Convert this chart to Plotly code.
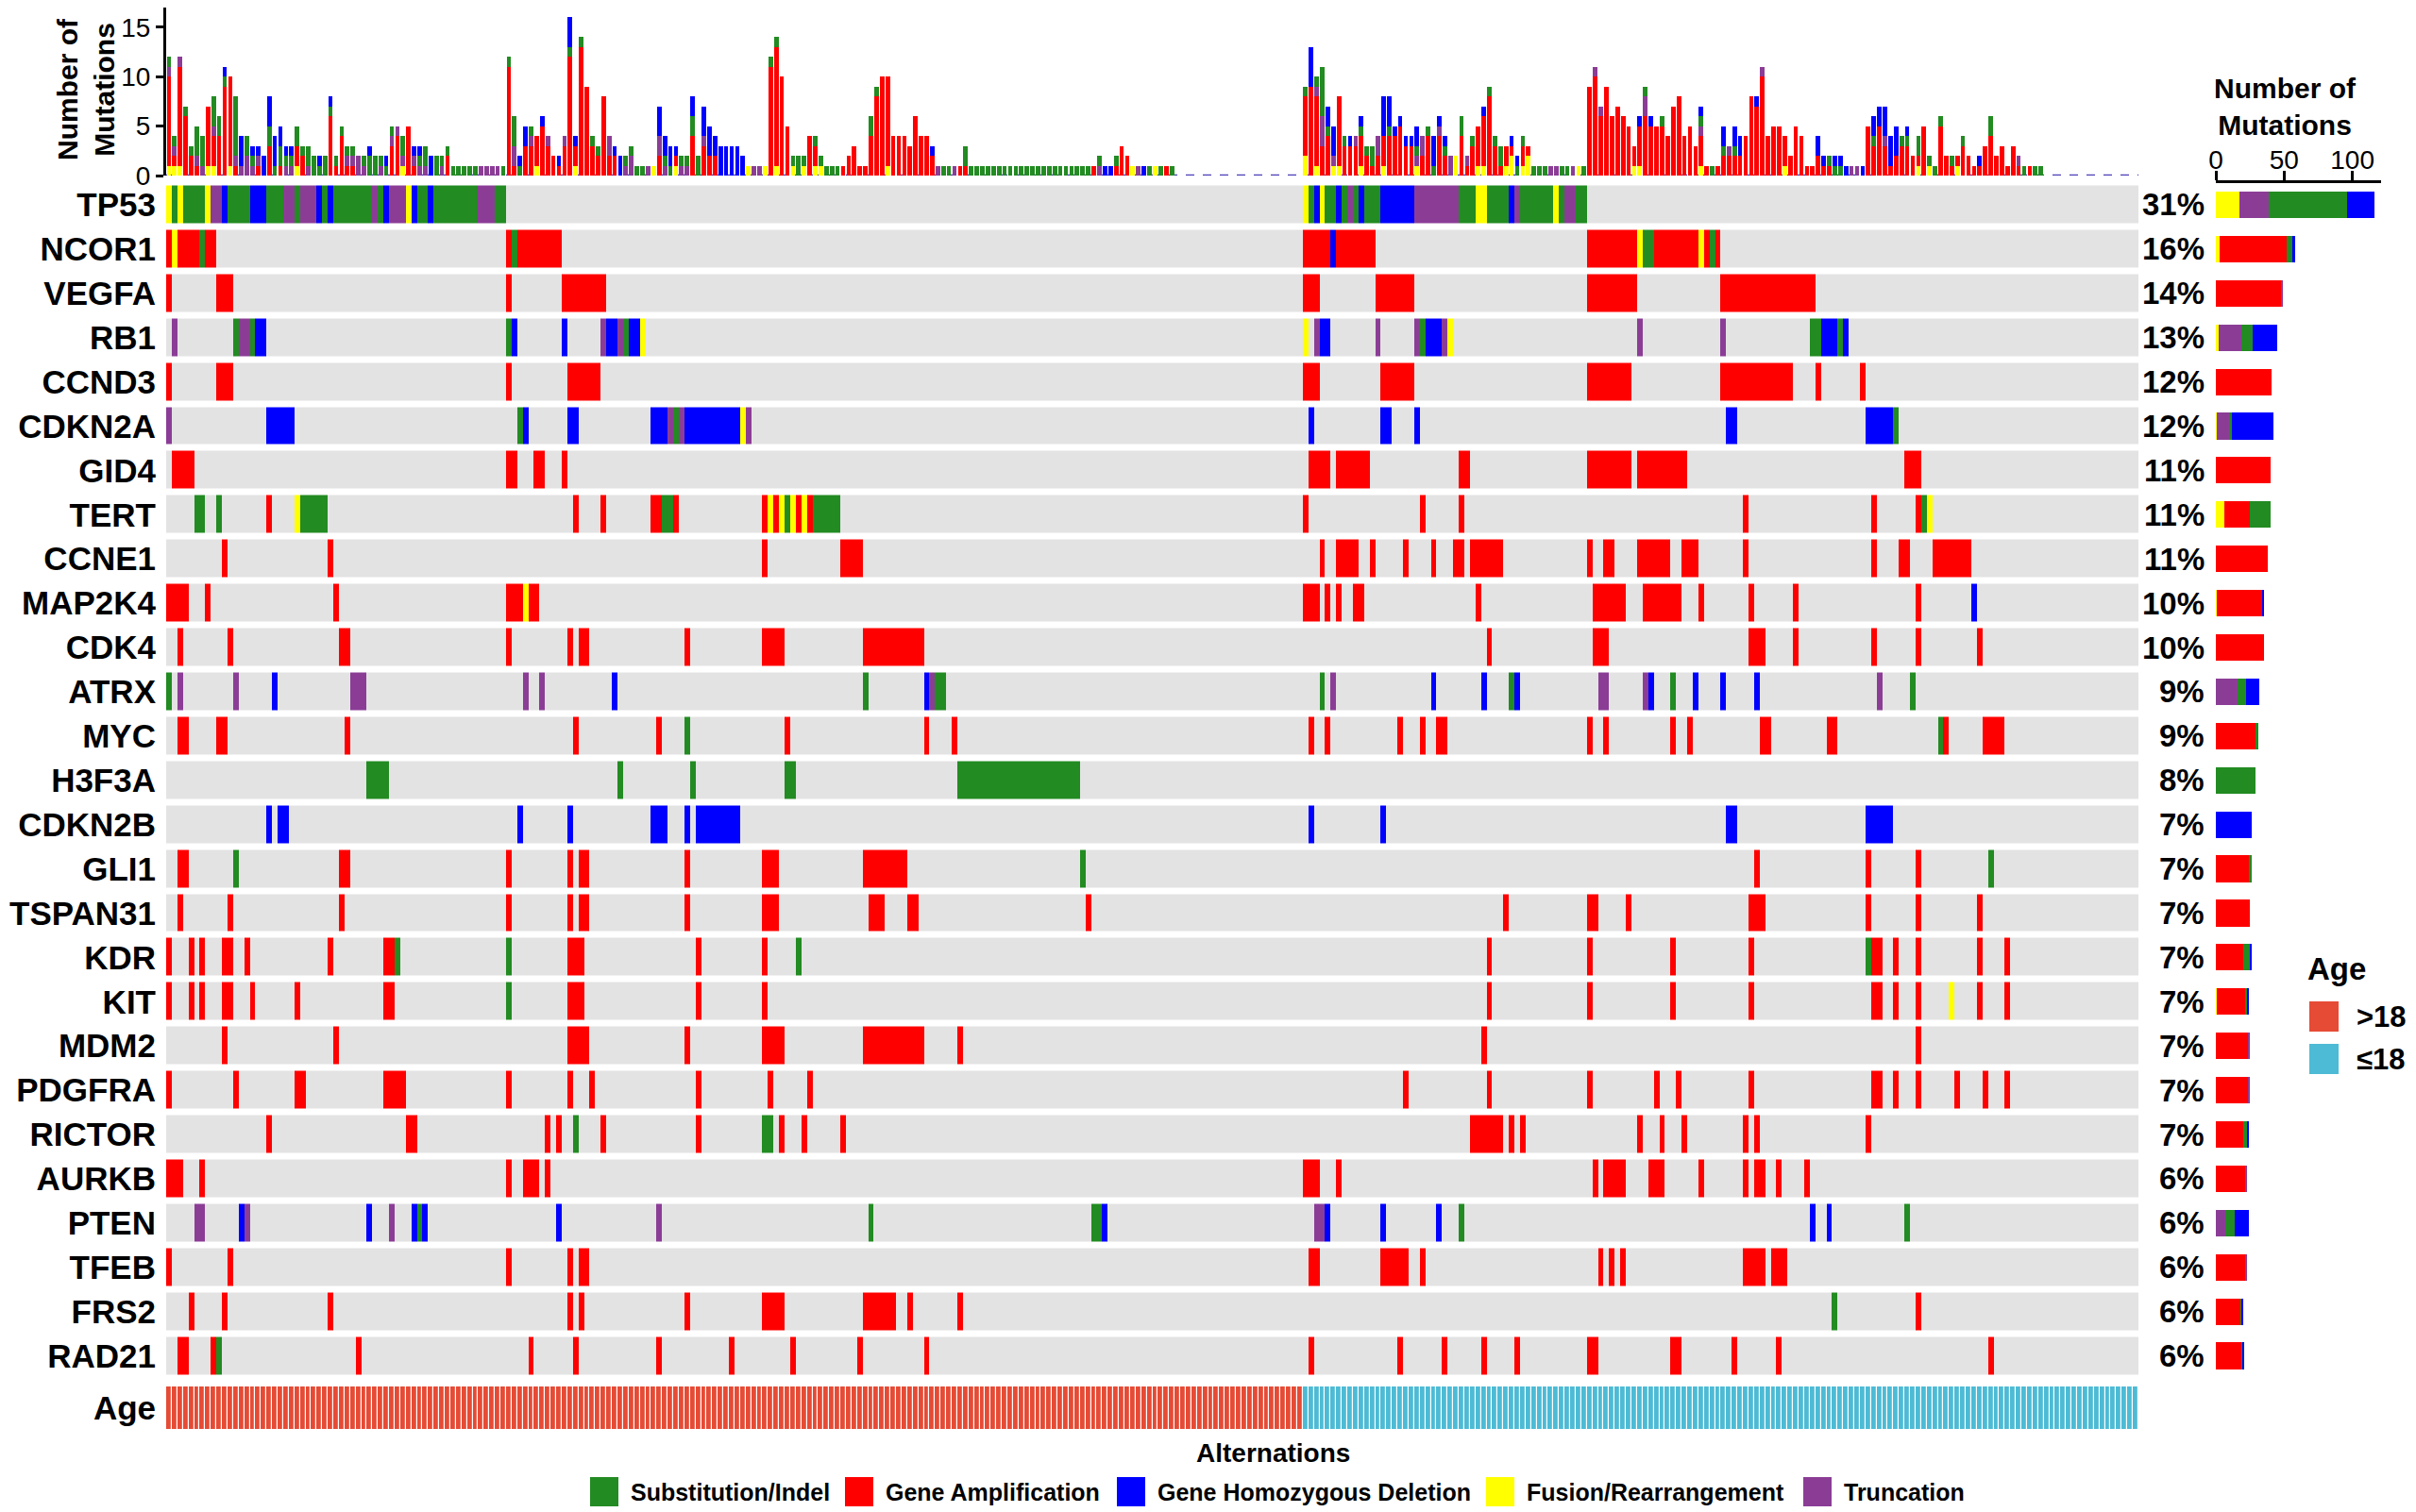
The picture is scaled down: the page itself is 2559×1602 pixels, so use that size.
import re
import plotly.graph_objects as go

# ---- data ----------------------------------------------------------------
N_SAMPLES = 354
N_ADULT = 204          # first 204 samples are >18, the rest <=18

GENES = ["TP53", "NCOR1", "VEGFA", "RB1", "CCND3", "CDKN2A", "GID4", "TERT",
         "CCNE1", "MAP2K4", "CDK4", "ATRX", "MYC", "H3F3A", "CDKN2B", "GLI1",
         "TSPAN31", "KDR", "KIT", "MDM2", "PDGFRA", "RICTOR", "AURKB", "PTEN",
         "TFEB", "FRS2", "RAD21"]
PERCENT = ["31%", "16%", "14%", "13%", "12%", "12%", "11%", "11%", "11%", "10%",
           "10%", "9%", "9%", "8%", "7%", "7%", "7%", "7%", "7%", "7%", "7%",
           "7%", "6%", "6%", "6%", "6%", "6%"]

# alterations per gene: "first-last" sample index + type
# S = substitution/indel, A = amplification, D = homozygous deletion,
# F = fusion/rearrangement, T = truncation
TP53 = ("0F 1S 2F 3-6S 7F 8-9T 10D 11-14S 15-17D 18-20S 21-22T 23S 24-26T 27D 28S 29D "
        "30-36S 37T 38S 39D 40-42T 43F 44D 45-46S 47D 48-55S 56-58T 59-60S "
        "204F 205S 206D 207F 208-209S 210D 211S 212T 213S 214D 215-217S 218-223D "
        "224-231T 232-234S 235-236F 237-240S 241D 242T 243-248S 249F 250S 251-252T 253-254S")
NCOR1 = "0A 1F 2-5A 6S 7-8A 61A 62S 63-70A 204-208A 209D 210-216A 255-263A 264F 265-266S 267-274A 275F 276A 277S 278A"
VEGFA = "0A 9-11A 61A 71-78A 204-206A 217-223A 255-263A 279-295A"
RB1 = ("1T 12S 13-14T 15S 16-17D 61S 62D 71D 78T 79-80D 81T 82S 83-84D 85F 204F 206T 207-208D "
       "217T 224T 225S 226-228D 229T 230F 264T 279T 295-296S 297-299D 300S 301D")
CCND3 = "0A 9-11A 61A 72-77A 204-206A 218-223A 255-262A 279-291A 296A 304A"
CDKN2A = "0T 18-22D 63S 64D 72-73D 87-89D 90T 91S 92T 93-102D 103F 104T 205D 218-219D 224D 280-281D 305-309D 310S"
GID4 = "1-4A 61-62A 66-67A 71A 205-208A 210-215A 232-233A 255-262A 264-272A 312-314A"
TERT = ("5-6S 9S 18A 23F 24-28S 73A 78A 87-88A 89-90S 91A 107A 108F 109A 110F 111S 112F 113A 114F "
        "115A 116-120S 204A 225A 232A 283A 306A 314A 315S 316F")
CCNE1 = ("10A 29A 107A 121-124A 207A 210-213A 216A 222A 227A 231-232A 234-239A 255A 258-259A "
         "264-269A 272-274A 283A 306A 311-312A 317-323A")
MAP2K4 = ("0-3A 7A 30A 61A 62-63A 64F 65-66A 204-206A 208A 210A 213-214A 235A 256-261A 265-271A "
          "275A 284A 292A 314A 324D")
CDK4 = "2A 11A 31-32A 61A 72A 74-75A 93A 107-110A 125-135A 237A 256-258A 284-286A 292A 306A 314A 325A"
ATRX = ("0S 2T 12T 19D 33-35T 64T 67T 80D 125S 136D 137T 138-139S 207S 209T 227D 236D 241S 242D "
        "257-258T 265T 266D 270S 274D 279D 285D 307T 313S")
MYC = ("2-3A 9-10A 32A 73A 88A 93S 111A 136A 141A 205A 208A 221A 225A 228-229A 255A 258A 270A "
       "273A 286-287A 298-299A 318S 319A 326-329A")
H3F3A = "36-39S 81S 94S 111-112S 142-163S"
CDKN2B = "18D 20-21D 63D 72D 87-89D 93D 95-102D 205D 218D 280-281D 305-309D"
GLI1 = "2-3A 12S 31-32A 61A 72A 74-75A 93A 107-109A 125-132A 164S 285A 305A 314A 327S"
TSPAN31 = "2A 11A 31A 61A 72A 74-75A 93A 107-109A 126-128A 133-134A 165A 240A 255-256A 262A 284-286A 305A 314A 325A"
KDR = ("0A 4A 6A 10-11A 14A 29A 39-40A 41S 61S 72-73A 74A 95A 107A 113S 237A 255A 270A 284A "
       "305S 306-307A 310A 314A 325A 330A")
KIT = ("0A 4A 6A 10-11A 15A 23A 39-40A 61S 72-73A 74A 95A 107A 237A 255A 270A 284A 306-307A "
       "310A 314A 320F 325A 330A")
MDM2 = "10A 30A 72-75A 93A 107-110A 125-135A 142A 236A 314A"
PDGFRA = ("0A 12A 23-24A 39-42A 61A 72A 76A 95A 108A 115A 222A 237A 255A 267A 271A 284A "
          "306-307A 310A 314A 321A 326A 330A")
RICTOR = ("18A 43-44A 68A 70A 73S 78A 95A 107-108S 110A 114A 121A 234-239A 241A 243A 264A 268A "
          "272A 283A 285A 305A")
AURKB = "0-2A 6A 61A 64-66A 68A 204-206A 210A 256A 258-261A 266-268A 275A 283A 285-286A 289A 294A"
PTEN = ("5-6T 13D 14T 36D 40T 44D 45S 46D 70D 88T 126S 166-167S 168D 206-207T 208D 218D 228D "
        "232S 295D 298D 312S")
TFEB = "0A 11A 61A 72A 74-75A 205-206A 218-222A 225A 257A 259A 261A 283-286A 288-290A"
FRS2 = "4A 10A 29A 72A 74A 93A 107-110A 125-130A 133A 142A 299S 314A"
RAD21 = ("2-3A 8A 9S 34A 65A 73A 88A 101A 112A 124A 136A 205A 221A 229A 236A 242A 255-256A "
         "270-271A 281A 289A 327A")

GENE_ALTS = [TP53, NCOR1, VEGFA, RB1, CCND3, CDKN2A, GID4, TERT, CCNE1, MAP2K4, CDK4,
             ATRX, MYC, H3F3A, CDKN2B, GLI1, TSPAN31, KDR, KIT, MDM2, PDGFRA, RICTOR,
             AURKB, PTEN, TFEB, FRS2, RAD21]

# mutations per sample (top panel): Y fusion, R amplification, P truncation,
# G substitution, B deletion
SAMPLE_COUNTS = (
    ["Y1R9P1G1", "Y1R1P1G1", "Y1R10P1", "R6G1", "R2G1", "R1P1G3", "P1G3", "Y1R6", "Y1R3P1G3", "R4G2",
     "R9G1B1", "Y1R9", "R1P1G6", "P1B3", "P2G2", "P1G1B1", "R1P1B1", "B2", "R3G2B3", "G1B3",
     "R1G2B2", "P1G1B1", "P1G1B1", "Y1R2G2", "R2G1", "P1G2", "G2", "G1B1", "G2", "R6G1B1",
     "R1G1", "R4G1", "R1P1G1", "R1P1G1", "P2", "P1G1", "G2B1", "G2", "P1G1", "G1B1",
     "R3P1G1", "R4P1", "Y1P1G2", "R5", "R1P1B1", "P1G1B1", "P1G2", "B2", "G2", "P1G1",
     "R2G1", "G1", "G1", "G1", "G1", "G1", "P1", "P1", "P1", "P1",
     "G1", "R11G1", "R1P2G3", "G1B1", "R3B2", "R3P1G1", "Y1R3", "R5B1", "R3P1", "R2",
     "R1B1", "R3P1", "R12G1B3", "Y1R2B1", "R13G1", "R9", "R3G1", "R2G1", "R8", "R2P2",
     "R2B1", "B2", "P1G1", "P2G1", "G1", "G1", "P1", "Y1", "R2P2B3", "P1G1B2",
     "G1B2", "Y1R1B1", "P1G1", "P1G1", "R4G2B2", "G2", "R3P1B3", "R2B3", "R2B2", "B3",
     "B3", "B3", "B3", "B2", "Y1", "P1", "P1", "Y1", "R11G1", "Y1R12G1",
     "R10", "R5", "Y1G1", "G2", "Y1G1", "R4", "Y1R2G1", "Y1G1", "G1", "G1",
     "G1", "R1", "R2", "R3", "R1", "R1", "R4G2", "R8G1", "R10", "Y1R9",
     "R4", "R4", "R4", "R3", "R6", "R4", "R4", "R2B1", "P1", "G1",
     "G1", "P1", "R1", "R1G2"]
    + ["G1"] * 22
    + ["R1", "P1G1", "B1", "B1", "R1G1", "R3", "R2", "Y1", "P1", "B1", "G1", "Y1", "G1", "R1", "G1"]
    + [""] * 23
    + ["Y2R6G1", "R9B4", "Y1R7P1G1", "R3P3G5", "R4G1B2", "Y1P1B3", "Y1R7", "R3G1", "R3B1", "R3P1",
       "Y1R3G1B1", "R2G1", "R1G2", "R2P2", "Y1R3B4", "R4G1B3", "R4B1", "R5B1", "R3B1", "R3B1",
       "Y1P1G1B2", "R2P2", "R4G1", "G1B3", "R4P1B1", "R2G1B1", "P2", "Y2", "R4G2", "R1P1",
       "R3G1", "Y1R4", "Y1R5B1", "R8G1", "R3G1", "R1G2", "Y1R2", "Y2R1B1", "G1B1", "Y1R2G1",
       "Y2R1", "G1", "G1", "G1", "P1", "P1", "G1", "G1", "P1", "Y1",
       "G1", "R9", "R10P1", "R6P1", "R9", "R6", "R7", "R6", "R5", "Y1R2",
       "Y1R4B1", "R6P2G1", "R5B1", "R5", "R5G1", "R4", "R7", "R8", "R4", "R5",
       "R3", "Y1R3P1G1B1", "R1", "G1", "R1", "R2G1B2", "R2P1", "R2G1B2", "R2B2", "R4",
       "R8", "R7B1", "R10P1", "R4", "R5", "R5", "Y1R3", "R2", "R5", "R4",
       "R1", "R1", "R2B2", "R1B1", "R1G1", "G1B1", "G1B1", "B1", "P1", "P1",
       "B1", "R5", "R3G1B2", "R5B2", "R3P1B3", "R1B3", "R2B3", "R3G1", "R3G1B1", "R2",
       "Y1R1G2", "R5", "Y1G1", "G1", "R5G1", "R2", "R1G1", "Y1R1", "R3G1", "R2",
       "R1", "R1B1", "R3", "R4G2", "R2", "R3", "R1", "R3", "R1P1", "G1",
       "R1", "G1", "G1"]
    + [""] * 17
)

# number of mutations per gene (right panel)
FUSION_CNT = [17, 3, 0, 2, 0, 1, 0, 6, 0, 1, 0, 0, 0, 0, 0, 0, 0, 0, 1, 0, 0, 0, 0, 0, 0, 0, 0]
AMP_CNT = [0, 49, 48, 0, 41, 0, 40, 19, 38, 33, 35, 0, 29, 0, 0, 24, 25, 20, 21, 24, 24, 20, 22, 0, 22, 18, 19]
TRUNC_CNT = [22, 0, 1, 17, 0, 9, 0, 0, 0, 0, 0, 16, 0, 0, 0, 0, 0, 0, 0, 1, 1, 0, 1, 7, 1, 0, 0]
SUBST_CNT = [57, 4, 0, 8, 0, 2, 0, 15, 0, 0, 0, 6, 2, 29, 0, 2, 0, 5, 1, 0, 0, 3, 0, 7, 0, 1, 1]
DEL_CNT = [20, 2, 0, 18, 0, 30, 0, 0, 0, 1, 0, 10, 0, 0, 26, 0, 0, 1, 1, 0, 0, 1, 0, 10, 0, 1, 1]

# ---- styling ---------------------------------------------------------------
FONT = "Liberation Sans, Arial, sans-serif"
GRAY = "#E3E3E3"
GREEN, RED, BLUE, YELLOW, PURPLE = "#228B22", "#FF0000", "#0000FF", "#FFFF00", "#8B3D96"
AGE_OLD, AGE_YOUNG = "#E64B35", "#4DBBD5"
CODE = {"S": 1, "A": 2, "D": 3, "F": 4, "T": 5}

assert len(SAMPLE_COUNTS) == N_SAMPLES

W, H = 2559, 1602


def fx(X):
    return X / W


def fy(Y):
    return 1 - Y / H


def parse_runs(spec):
    row = [0] * N_SAMPLES
    for tok in spec.split():
        rng, c = tok[:-1], tok[-1]
        if "-" in rng:
            a, b = map(int, rng.split("-"))
        else:
            a = b = int(rng)
        for i in range(a, b + 1):
            row[i] = CODE[c]
    return row


z_genes = [parse_runs(s) for s in GENE_ALTS]

per_type = {k: [] for k in "YRPGB"}
for s in SAMPLE_COUNTS:
    d = {k: int(v) for k, v in re.findall(r"([YRPGB])(\d+)", s)}
    for k in "YRPGB":
        per_type[k].append(d.get(k, 0))

samples = list(range(N_SAMPLES))
fig = go.Figure()

# oncoprint
steps = [GRAY, GREEN, RED, BLUE, YELLOW, PURPLE]
cscale = []
for k, c in enumerate(steps):
    cscale += [[k / 6, c], [(k + 1) / 6, c]]
fig.add_trace(go.Heatmap(x=samples, y=GENES, z=z_genes, xaxis="x", yaxis="y3",
                         colorscale=cscale, zmin=-0.5, zmax=5.5, showscale=False,
                         xgap=0, ygap=7, hoverinfo="skip"))

# age row
age_z = [[0 if i < N_ADULT else 1 for i in samples]]
fig.add_trace(go.Heatmap(x=samples, y=["Age"], z=age_z, xaxis="x", yaxis="y4",
                         colorscale=[[0, AGE_OLD], [0.5, AGE_OLD], [0.5, AGE_YOUNG], [1, AGE_YOUNG]],
                         zmin=0, zmax=1, showscale=False, xgap=1.2, hoverinfo="skip"))

# top stacked bars and right stacked bars (bottom-to-top order)
stack = [("Y", YELLOW, FUSION_CNT), ("R", RED, AMP_CNT), ("P", PURPLE, TRUNC_CNT),
         ("G", GREEN, SUBST_CNT), ("B", BLUE, DEL_CNT)]
for k, col, gene_cnt in stack:
    fig.add_trace(go.Bar(x=samples, y=per_type[k], xaxis="x", yaxis="y2", width=0.8,
                         marker=dict(color=col, line=dict(width=0)), showlegend=False,
                         hoverinfo="skip"))
    fig.add_trace(go.Bar(x=gene_cnt, y=GENES, orientation="h", xaxis="x5", yaxis="y3",
                         width=0.6, marker=dict(color=col, line=dict(width=0)),
                         showlegend=False, hoverinfo="skip"))


def note(X, Y, text, size, xanchor="center", angle=0):
    return dict(x=fx(X), y=fy(Y), xref="paper", yref="paper", xanchor=xanchor,
                yanchor="middle", textangle=angle, text=text, showarrow=False,
                font=dict(size=size, color="black"))


annotations = []
for g, p in zip(GENES, PERCENT):
    annotations.append(dict(x=fx(2337), xref="paper", xanchor="right", y=g, yref="y3",
                            yanchor="middle", text=f"<b>{p}</b>", showarrow=False,
                            font=dict(size=33, color="black")))

annotations.append(note(91, 95, "<b>Number of<br>Mutations</b>", 30, angle=-90))
annotations.append(note(2420, 113, "<b>Number of<br>Mutations</b>", 30))

shapes = [dict(type="line", xref="x", yref="y2", x0=-0.5, x1=N_SAMPLES - 0.5, y0=0, y1=0,
               line=dict(color="#4B3FB8", width=2.5, dash="dash"), layer="below")]

# age legend
annotations.append(note(2442, 1026, "<b>Age</b>", 33, xanchor="left"))
for (label, col), yc in zip([(">18", AGE_OLD), ("≤18", AGE_YOUNG)], [1077, 1122]):
    shapes.append(dict(type="rect", xref="paper", yref="paper", x0=fx(2446), x1=fx(2477),
                       y0=fy(yc + 16), y1=fy(yc - 16), fillcolor=col, line=dict(width=0)))
    annotations.append(note(2494, yc, f"<b>{label}</b>", 31, xanchor="left"))

# alteration legend
annotations.append(note(1348, 1539, "<b>Alternations</b>", 28))
legend_items = [("Substitution/Indel", GREEN, 625), ("Gene Amplification", RED, 895),
                ("Gene Homozygous Deletion", BLUE, 1183), ("Fusion/Rearrangement", YELLOW, 1574),
                ("Truncation", PURPLE, 1910)]
for label, col, x0 in legend_items:
    shapes.append(dict(type="rect", xref="paper", yref="paper", x0=fx(x0), x1=fx(x0 + 30),
                       y0=fy(1596), y1=fy(1565), fillcolor=col, line=dict(width=0)))
    annotations.append(note(x0 + 41, 1581, f"<b>{label}</b>", 25, xanchor="left"))

label_font = dict(size=35, color="black", weight="bold")
fig.update_layout(
    width=W, height=H, margin=dict(l=0, r=0, t=0, b=0, pad=0),
    paper_bgcolor="white", plot_bgcolor="white",
    font=dict(family=FONT, color="black"),
    barmode="stack", bargap=0.2, showlegend=False,
    xaxis=dict(domain=[fx(176), fx(2265)], range=[-0.5, N_SAMPLES - 0.5], visible=False,
               anchor="y3", automargin=False),
    yaxis=dict(visible=False, automargin=False),
    yaxis2=dict(domain=[fy(186), fy(8)], anchor="x", range=[0, 17], tickvals=[0, 5, 10, 15],
                showline=True, linecolor="black", linewidth=3, ticks="outside", ticklen=8,
                tickwidth=3, tickcolor="black", tickfont=dict(size=28), showgrid=False,
                zeroline=False, automargin=False),
    yaxis3=dict(domain=[fy(1460), fy(193.5)], anchor="x", type="category",
                categoryorder="array", categoryarray=GENES, range=[26.5, -0.5],
                showgrid=False, zeroline=False, showline=False, ticks="",
                ticklabelstandoff=10, tickfont=label_font, automargin=False),
    yaxis4=dict(domain=[fy(1514), fy(1469)], anchor="x", showgrid=False, zeroline=False,
                showline=False, ticks="", ticklabelstandoff=10, tickfont=label_font,
                automargin=False),
    xaxis5=dict(domain=[fx(2347), fx(2522)], range=[0, 121], anchor="y3", side="top",
                tickvals=[0, 50, 100], showline=True, linecolor="black", linewidth=3,
                ticks="outside", ticklen=10, tickwidth=3, tickcolor="black",
                tickfont=dict(size=28), showgrid=False, zeroline=False,
                ticklabelstandoff=-10, automargin=False),
    annotations=annotations, shapes=shapes,
)

# drop the default page margin so the figure fills the window exactly
fig.write_html("out.html", config={"displayModeBar": False},
               post_script="document.body.style.margin='0';"
                           "document.documentElement.style.overflow='hidden';")
